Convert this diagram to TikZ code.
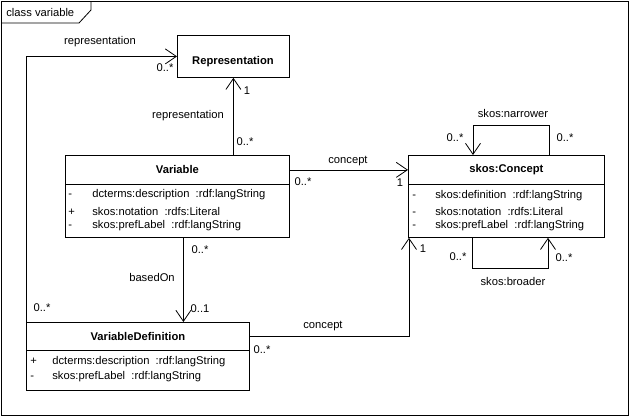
\documentclass[tikz,border=0pt]{standalone}
\usepackage{fontspec}
\setmainfont{Liberation Sans}
\usetikzlibrary{arrows.meta}
\begin{document}
\begin{tikzpicture}[x=1pt,y=-1pt,line width=0.8pt,
  font=\fontsize{11.2}{13}\selectfont,
  box/.style={draw,anchor=north west,inner sep=0pt},
  hdr/.style={anchor=north west,inner sep=0pt,font=\fontsize{11.2}{13}\selectfont\bfseries},
  attr/.style={anchor=west,inner sep=0pt},
  lbl/.style={inner sep=0pt},
  assoc/.style={-{Straight Barb[length=11pt,width=15pt,line width=0.8pt]}}]
\useasboundingbox (0,0) rectangle (630,416);
% frame
\node[draw,anchor=north west,minimum width=627pt,minimum height=414pt,inner sep=0pt] (frame) at (1,1) {};
\draw (frame.north west |- 0,23) -- (79,23) -- (91,10) -- (91,1);
\node[lbl,anchor=west] (title) at (6,12) {class variable};
% Representation
\node[box,minimum width=112pt,minimum height=42pt] (rep) at (177,35) {};
\node[lbl,font=\fontsize{11.2}{13}\selectfont\bfseries] (repn) at (233,62) {Representation};
% Variable
\node[box,minimum width=224pt,minimum height=82pt] (var) at (65,155) {};
\node[hdr,minimum width=224pt,minimum height=29pt] (varh) at (65,155) {\raisebox{-2pt}{Variable}};
\draw (varh.south west) -- (varh.south east);
\node[attr] (va1) at (68,195) {\makebox[24pt][l]{-}dcterms:description\ \ :rdf:langString};
\node[attr] (va2) at (68,211) {\makebox[24pt][l]{+}skos:notation\ \ :rdfs:Literal};
\node[attr] (va3) at (68,226) {\makebox[24pt][l]{-}skos:prefLabel\ \ :rdf:langString};
% skos:Concept
\node[box,minimum width=196pt,minimum height=82pt] (con) at (408,155) {};
\node[hdr,minimum width=196pt,minimum height=29pt] (conh) at (408,155) {\raisebox{-2pt}{skos:Concept}};
\draw (conh.south west) -- (conh.south east);
\node[attr] (ca1) at (412,196) {\makebox[23pt][l]{-}skos:definition\ \ :rdf:langString};
\node[attr] (ca2) at (412,211) {\makebox[23pt][l]{-}skos:notation\ \ :rdfs:Literal};
\node[attr] (ca3) at (412,226) {\makebox[23pt][l]{-}skos:prefLabel\ \ :rdf:langString};
% VariableDefinition
\node[box,minimum width=223pt,minimum height=68pt] (vd) at (26,322) {};
\node[hdr,minimum width=223pt,minimum height=28pt] (vdh) at (26,322) {\raisebox{-2pt}{VariableDefinition}};
\draw (vdh.south west) -- (vdh.south east);
\node[attr] (da1) at (30,362) {\makebox[22pt][l]{+}dcterms:description\ \ :rdf:langString};
\node[attr] (da2) at (30,377) {\makebox[22pt][l]{-}skos:prefLabel\ \ :rdf:langString};
% connectors
\draw[assoc] (rep.south |- var.north) -- (rep.south);
\draw[assoc] (vd.north west) |- (rep.west);
\draw[assoc] ([xshift=6pt]var.south) -- ([xshift=6pt]var.south |- vd.north);
\draw[assoc] (varh.east) -- (varh.east -| con.west);
\draw[assoc] (vdh.east) -| ([xshift=1pt]con.south west);
\draw[assoc] ([xshift=141pt]con.north west) -- ++(0,-30) -| ([xshift=65pt]con.north west);
\draw[assoc] ([xshift=64pt]con.south west) -- ++(0,31) -| ([xshift=140pt]con.south west);
% labels
\node[lbl] (l1) at (100,42) {representation};
\node[lbl] (l2) at (165,68) {0..*};
\node[lbl] (l3) at (247,91) {1};
\node[lbl] (l4) at (188,116) {representation};
\node[lbl] (l5) at (245,142) {0..*};
\node[lbl] (l6) at (348,161) {concept};
\node[lbl] (l7) at (303,182) {0..*};
\node[lbl] (l8) at (400,183) {1};
\node[lbl] (l9) at (513,113) {skos:narrower};
\node[lbl] (l10) at (455,138) {0..*};
\node[lbl] (l11) at (565,138) {0..*};
\node[lbl] (l12) at (423,249) {1};
\node[lbl] (l13) at (458,257) {0..*};
\node[lbl] (l14) at (564,258) {0..*};
\node[lbl] (l15) at (513,281) {skos:broader};
\node[lbl] (l16) at (200,250) {0..*};
\node[lbl] (l17) at (152,277) {basedOn};
\node[lbl] (l18) at (200,309) {0..1};
\node[lbl] (l19) at (42,308) {0..*};
\node[lbl] (l20) at (323,326) {concept};
\node[lbl] (l21) at (262,350) {0..*};
\end{tikzpicture}
\end{document}
